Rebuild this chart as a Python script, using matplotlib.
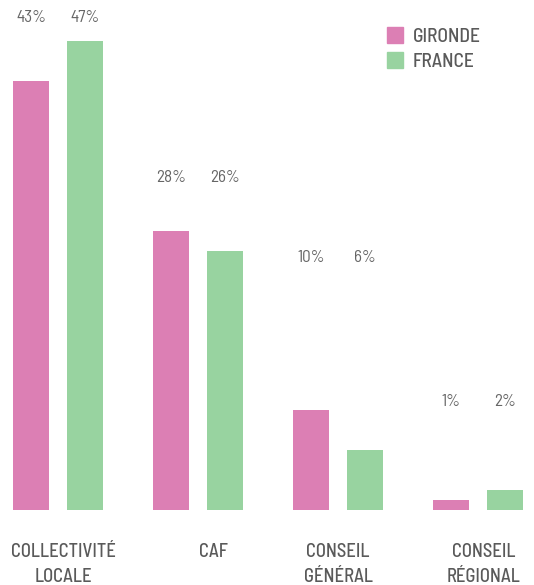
import matplotlib
matplotlib.use("Agg")
import matplotlib.pyplot as plt
from matplotlib.patches import Rectangle

categories = [["COLLECTIVITÉ", "LOCALE"], ["CAF"], ["CONSEIL", "GÉNÉRAL"], ["CONSEIL", "RÉGIONAL"]]
gironde = [43, 28, 10, 1]
france = [47, 26, 6, 2]
series_names = ["GIRONDE", "FRANCE"]

W, H, DPI = 534, 585, 100
PINK = "#dc7fb4"
GREEN = "#98d3a0"
TXT = "#5a5a5a"
FONT = ["Barlow Semi Condensed", "DejaVu Sans"]
plt.rcParams['font.family'] = FONT
plt.rcParams['font.weight'] = 'medium'

fig = plt.figure(figsize=(W / DPI, H / DPI), dpi=DPI)
ax = fig.add_axes([0, 0, 1, 1])

px_per_unit = 9.979
base_px = 510
ax.set_ylim(-(H - base_px) / px_per_unit, base_px / px_per_unit)
gsp = 140.0
ax.set_xlim(-58 / gsp, (W - 58) / gsp)
ax.axis('off')

bw = 36 / gsp
off = 27 / gsp
xs = list(range(len(gironde)))
ax.bar([x - off for x in xs], gironde, width=bw, color=PINK)
ax.bar([x + off for x in xs], france, width=bw, color=GREEN)

def py(p):
    return (base_px - p) / px_per_unit

label_base_px = [22, 182, 262, 406]
cat_dx = [5, 15, 0, 6]
for x, g, f, lb in zip(xs, gironde, france, label_base_px):
    ax.text(x - off, py(lb), f"{g}%", ha='center', va='baseline', fontsize=12.3,
            color="#666666", fontweight='normal')
    ax.text(x + off, py(lb), f"{f}%", ha='center', va='baseline', fontsize=12.3,
            color="#666666", fontweight='normal')
    cat = categories[x]
    for i, line in enumerate(cat):
        ax.text(x + cat_dx[x] / gsp, py(557 + 25 * i), line, ha='center', va='baseline',
                fontsize=13.4, color=TXT)

# legend
for i, (name, col) in enumerate(zip(series_names, [PINK, GREEN])):
    top = 27 + 25 * i
    fig.patches.append(Rectangle((387 / W, 1 - (top + 16) / H), 16 / W, 16 / H,
                                 transform=fig.transFigure, color=col))
    fig.text(413 / W, 1 - (42.3 + 25 * i) / H, name, ha='left', va='baseline',
             fontsize=14, color=TXT)

fig.savefig("out.png", dpi=DPI)
